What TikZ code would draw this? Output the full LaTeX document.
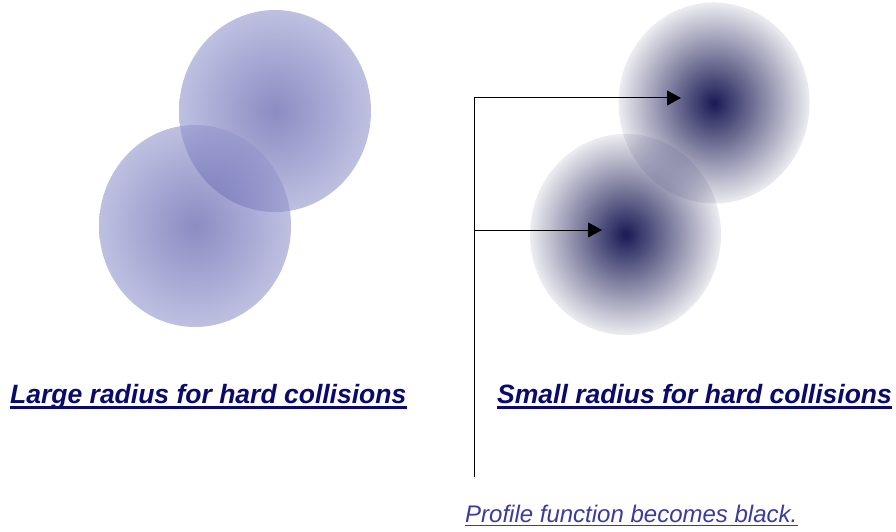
\documentclass[tikz,border=0pt]{standalone}
\usepackage{fontspec}
\setmainfont{Liberation Sans}
\usetikzlibrary{arrows.meta, fadings}
\definecolor{marine}{HTML}{0A0A6E}
\definecolor{bleu}{HTML}{3A3AA0}
\definecolor{lilasin}{HTML}{3F3F9B}
\definecolor{lilasout}{HTML}{9396CD}
\definecolor{encre}{HTML}{1A1A55}
\tikzfading[name=profil, inner color=transparent!0, outer color=transparent!92]

\begin{document}
\begin{tikzpicture}[x=1pt, y=-1pt,
    titre/.style={font=\fontsize{26.5}{30}\selectfont\bfseries\itshape, color=marine, inner sep=0pt, anchor=base west},
    trait/.style={black, line width=1pt},
    fleche/.style={trait, -{Triangle[length=14pt, width=15pt]}}]
    \useasboundingbox (0,0) rectangle (896,532);
    % large radius: two soft ellipses
    \foreach \cx/\cy in {275/111, 195/226} {
      \shade[inner color=lilasin, outer color=lilasout, fill opacity=0.6]
        (\cx,\cy) ellipse [x radius=96pt, y radius=101pt];
    }
    % small radius: dark cores
    \foreach \cx/\cy in {714/103, 625.5/234.5} {
      \fill[encre, path fading=profil] (\cx,\cy) ellipse [x radius=95.5pt, y radius=100.5pt];
    }
    \coordinate (haut) at (474,98);
    \coordinate (bas) at (474,477);
    \coordinate (milieu) at (474,230);
    \coordinate (cible1) at (681,98);
    \coordinate (cible2) at (602,230);
    \draw[trait] (haut) -- (bas);
    \draw[fleche] (haut) -- (cible1);
    \draw[fleche] (milieu) -- (cible2);
    \node[titre] (large) at (10,403) {Large radius for hard collisions};
    \node[titre] (small) at (497,403) {Small radius for hard collisions};
    \draw[marine, line width=2.2pt] ([yshift=-4.5pt]large.base west) -- ([yshift=-4.5pt]large.base east);
    \draw[marine, line width=2.2pt] ([yshift=-4.5pt]small.base west) -- ([yshift=-4.5pt]small.base east);
    \node[font=\fontsize{24}{28}\selectfont\itshape, color=bleu, inner sep=0pt, anchor=base west] (profile) at (465,522)
      {Profile function becomes black.};
    \draw[bleu, line width=1.5pt] ([yshift=-3.5pt]profile.base west) -- ([yshift=-3.5pt]profile.base east);
  \end{tikzpicture}
\end{document}
